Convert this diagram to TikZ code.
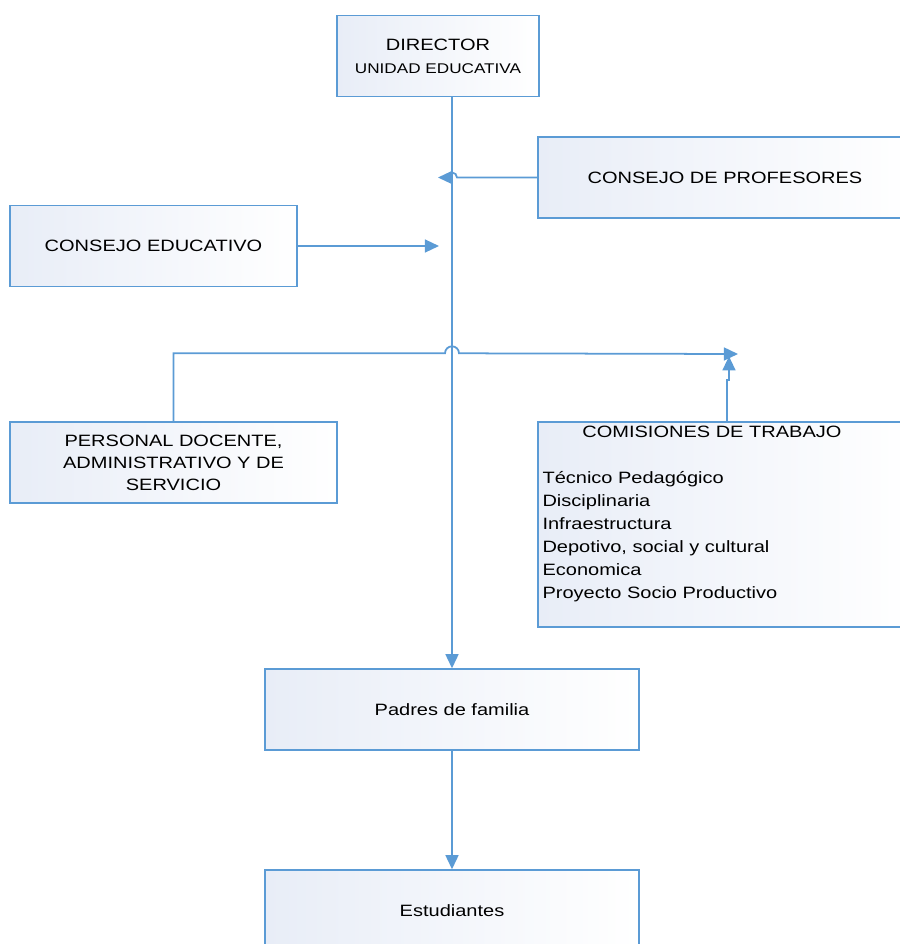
\documentclass[tikz,border=0pt]{standalone}
\usepackage{fontspec}
\setmainfont[FakeStretch=1.22]{Liberation Sans}
\usetikzlibrary{positioning,calc,arrows.meta}
\definecolor{lineblue}{RGB}{91,155,213}
\definecolor{boxfill}{RGB}{232,237,247}

\begin{document}
\begin{tikzpicture}[x=0.03cm,y=-0.03cm,
    box/.style={draw=lineblue,line width=1.2pt,left color=boxfill,right color=white,
      minimum height=81*0.03cm,inner sep=0pt,align=center,
      font=\fontsize{14}{18.8}\selectfont},
    link/.style={draw=lineblue,line width=1.5pt},
    tip/.style={-{Triangle[length=12pt,width=11pt]}}]
  \useasboundingbox (0,0) rectangle (900,944);
  \clip (0,0) rectangle (900,944);

  % boxes
  \node[box,minimum width=202*0.03cm] (dir) at (438,56)
    {DIRECTOR\\[1pt]{\fontsize{12}{14}\selectfont UNIDAD EDUCATIVA}};
  \node[box,minimum width=374*0.03cm] (prof) at (725,177.5) {CONSEJO DE PROFESORES};
  \node[box,minimum width=287*0.03cm] (educ) at (153.5,246) {CONSEJO EDUCATIVO};
  \node[box,minimum width=327*0.03cm] (pers) at (173.5,462.5)
    {PERSONAL DOCENTE,\\ADMINISTRATIVO Y DE\\SERVICIO};
  \node[box,minimum width=374*0.03cm,minimum height=205*0.03cm] (comis) at (725,524.5) {};
  \node[anchor=north west,inner sep=0pt,align=left,
    font=\fontsize{14}{19.6}\selectfont] (comistxt) at ($(comis.north west)+(5,5)$)
    {\hspace*{34pt}COMISIONES DE TRABAJO\\[19.6pt]
     Técnico Pedagógico\\Disciplinaria\\Infraestructura\\
     Depotivo, social y cultural\\Economica\\Proyecto Socio Productivo};
  \node[box,minimum width=374*0.03cm] (padres) at (452,709.5) {Padres de familia};
  \node[box,minimum width=374*0.03cm] (estud) at (452,910.5) {Estudiantes};

  % main line
  \coordinate (top) at (padres.north |- dir.south);
  \draw[link,tip] (top) -- (padres.north);
  \draw[link,tip] (padres.south) -- (estud.north);

  % consejos
  \draw[link] (prof.west) -- ($(top |- prof.west)+(5,0)$)
    arc[start angle=0,end angle=-180,radius=5];
  \draw[link,tip] (top |- prof.west) -- ($(top |- prof.west)+(-14,0)$);
  \draw[link,tip] (educ.east) -- ($(top |- educ.east)+(-13,0)$);

  % personal -> comisiones
  \coordinate (hl) at ($(pers.north)+(0,-68)$);
  \coordinate (hr) at (738,354);
  \draw[link,tip] (pers.north) -- (hl) -- ($(top |- hl)+(-7,0)$)
    arc[start angle=180,end angle=360,radius=7] -- (hr);
  \draw[link,tip] ($(comis.north)+(2,0)$) -- ++(0,-41) -- ++(2,0) -- ++(0,-24);
\end{tikzpicture}
\end{document}
